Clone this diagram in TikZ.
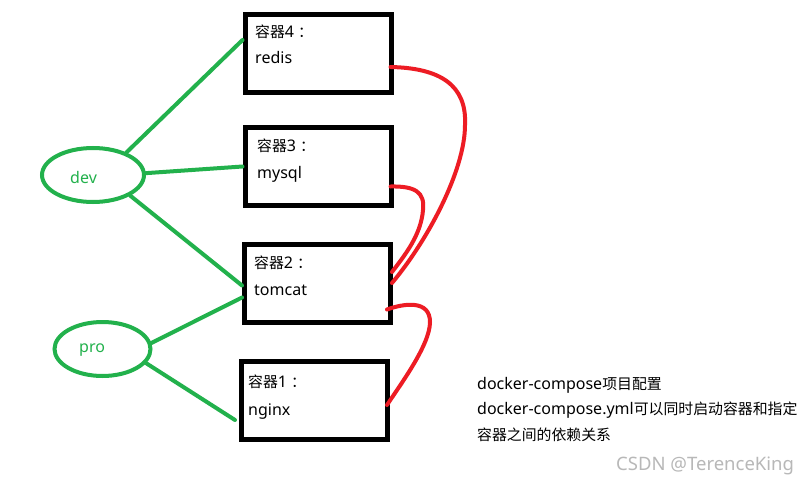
\documentclass[tikz,border=0pt]{standalone}
\usepackage{fontspec}
\setmainfont{Noto Sans}
\newfontfamily\cjk{Noto Sans CJK SC}[Scale=0.93]
\usetikzlibrary{shapes.geometric,calc}
\definecolor{pgreen}{RGB}{34,177,76}
\definecolor{pred}{RGB}{237,28,36}
\newcommand{\fwcolon}{\kern4pt{\cjk ：}}
\begin{document}
\begin{tikzpicture}[x=1pt,y=-1pt,
  box/.style={draw,line width=5pt,minimum width=146pt,minimum height=78pt,inner sep=0pt},
  env/.style={ellipse,draw=pgreen,line width=4pt,inner sep=0pt},
  gline/.style={pgreen,line width=4pt,line cap=round},
  rline/.style={pred,line width=4pt,line cap=round},
  lbl/.style={anchor=base west,inner sep=0pt,font=\fontsize{16}{19}\selectfont},
  elbl/.style={lbl,text=pgreen}]
\useasboundingbox (0,0) rectangle (810,484);
\fill[white] (0,0) rectangle (810,484);

% containers
\node[box] (box4) at (318,54) {};
\node[box] (box3) at (318,166.5) {};
\node[box] (box2) at (317.5,283.5) {};
\node[box] (box1) at (314.5,400) {};

\node[lbl] (l4a) at (255,38) {{\cjk 容器}4\fwcolon};
\node[lbl] (l4b) at (255,64) {redis};
\node[lbl] (l3a) at (257,151) {{\cjk 容器}3\fwcolon};
\node[lbl] (l3b) at (257,178) {mysql};
\node[lbl] (l2a) at (254,268) {{\cjk 容器}2\fwcolon};
\node[lbl] (l2b) at (254,295) {tomcat};
\node[lbl] (l1a) at (248,387) {{\cjk 容器}1\fwcolon};
\node[lbl] (l1b) at (248,415) {nginx};

% environments
\node[env,minimum width=102pt,minimum height=54pt] (dev) at (93,175) {};
\node[env,minimum width=96pt,minimum height=54pt] (pro) at (102.5,349) {};
\node[elbl] (devt) at (70,183) {dev};
\node[elbl] (prot) at (79,352) {pro};

% green links
\draw[gline] (dev.34) -- ($(box4.west)+(0,-14)$);
\draw[gline] (dev.2) -- (box3.west);
\draw[gline] (dev.-29) -- ($(box2.west)+(0,2)$);
\draw[gline] (pro.7) -- ($(box2.west)+(0,14)$);
\draw[gline] (pro.-18) -- ($(box1.west)+(-4,20)$);

% red dependencies
\draw[rline] ($(box4.east)+(-3,13)$) .. controls (440,68) and (467,85) .. (465,125)
  .. controls (465,170) and (428,240) .. ($(box2.east)+(-1,-0.5)$);
\draw[rline] ($(box3.east)+(-3,20)$) .. controls (415,186) and (425,192) .. (423,210)
  .. controls (421,235) and (405,255) .. ($(box2.east)+(-1,-11.5)$);
\draw[rline] ($(box2.east)+(-6,26)$) .. controls (405,303) and (430,300) .. (430,322)
  .. controls (430,345) and (400,385) .. ($(box1.east)+(-3,5)$);

% notes
\node[lbl] (n1) at (477,389) {docker-compose{\cjk 项目配置}};
\node[lbl] (n2) at (477,414) {docker-compose.yml{\cjk 可以同时启动容器和指定}};
\node[lbl] (n3) at (477,440) {{\cjk 容器之间的依赖关系}};
\node[lbl,font=\fontsize{18.5}{22}\selectfont,text=black!28] (wm) at (616,470) {CSDN @TerenceKing};
\end{tikzpicture}
\end{document}
